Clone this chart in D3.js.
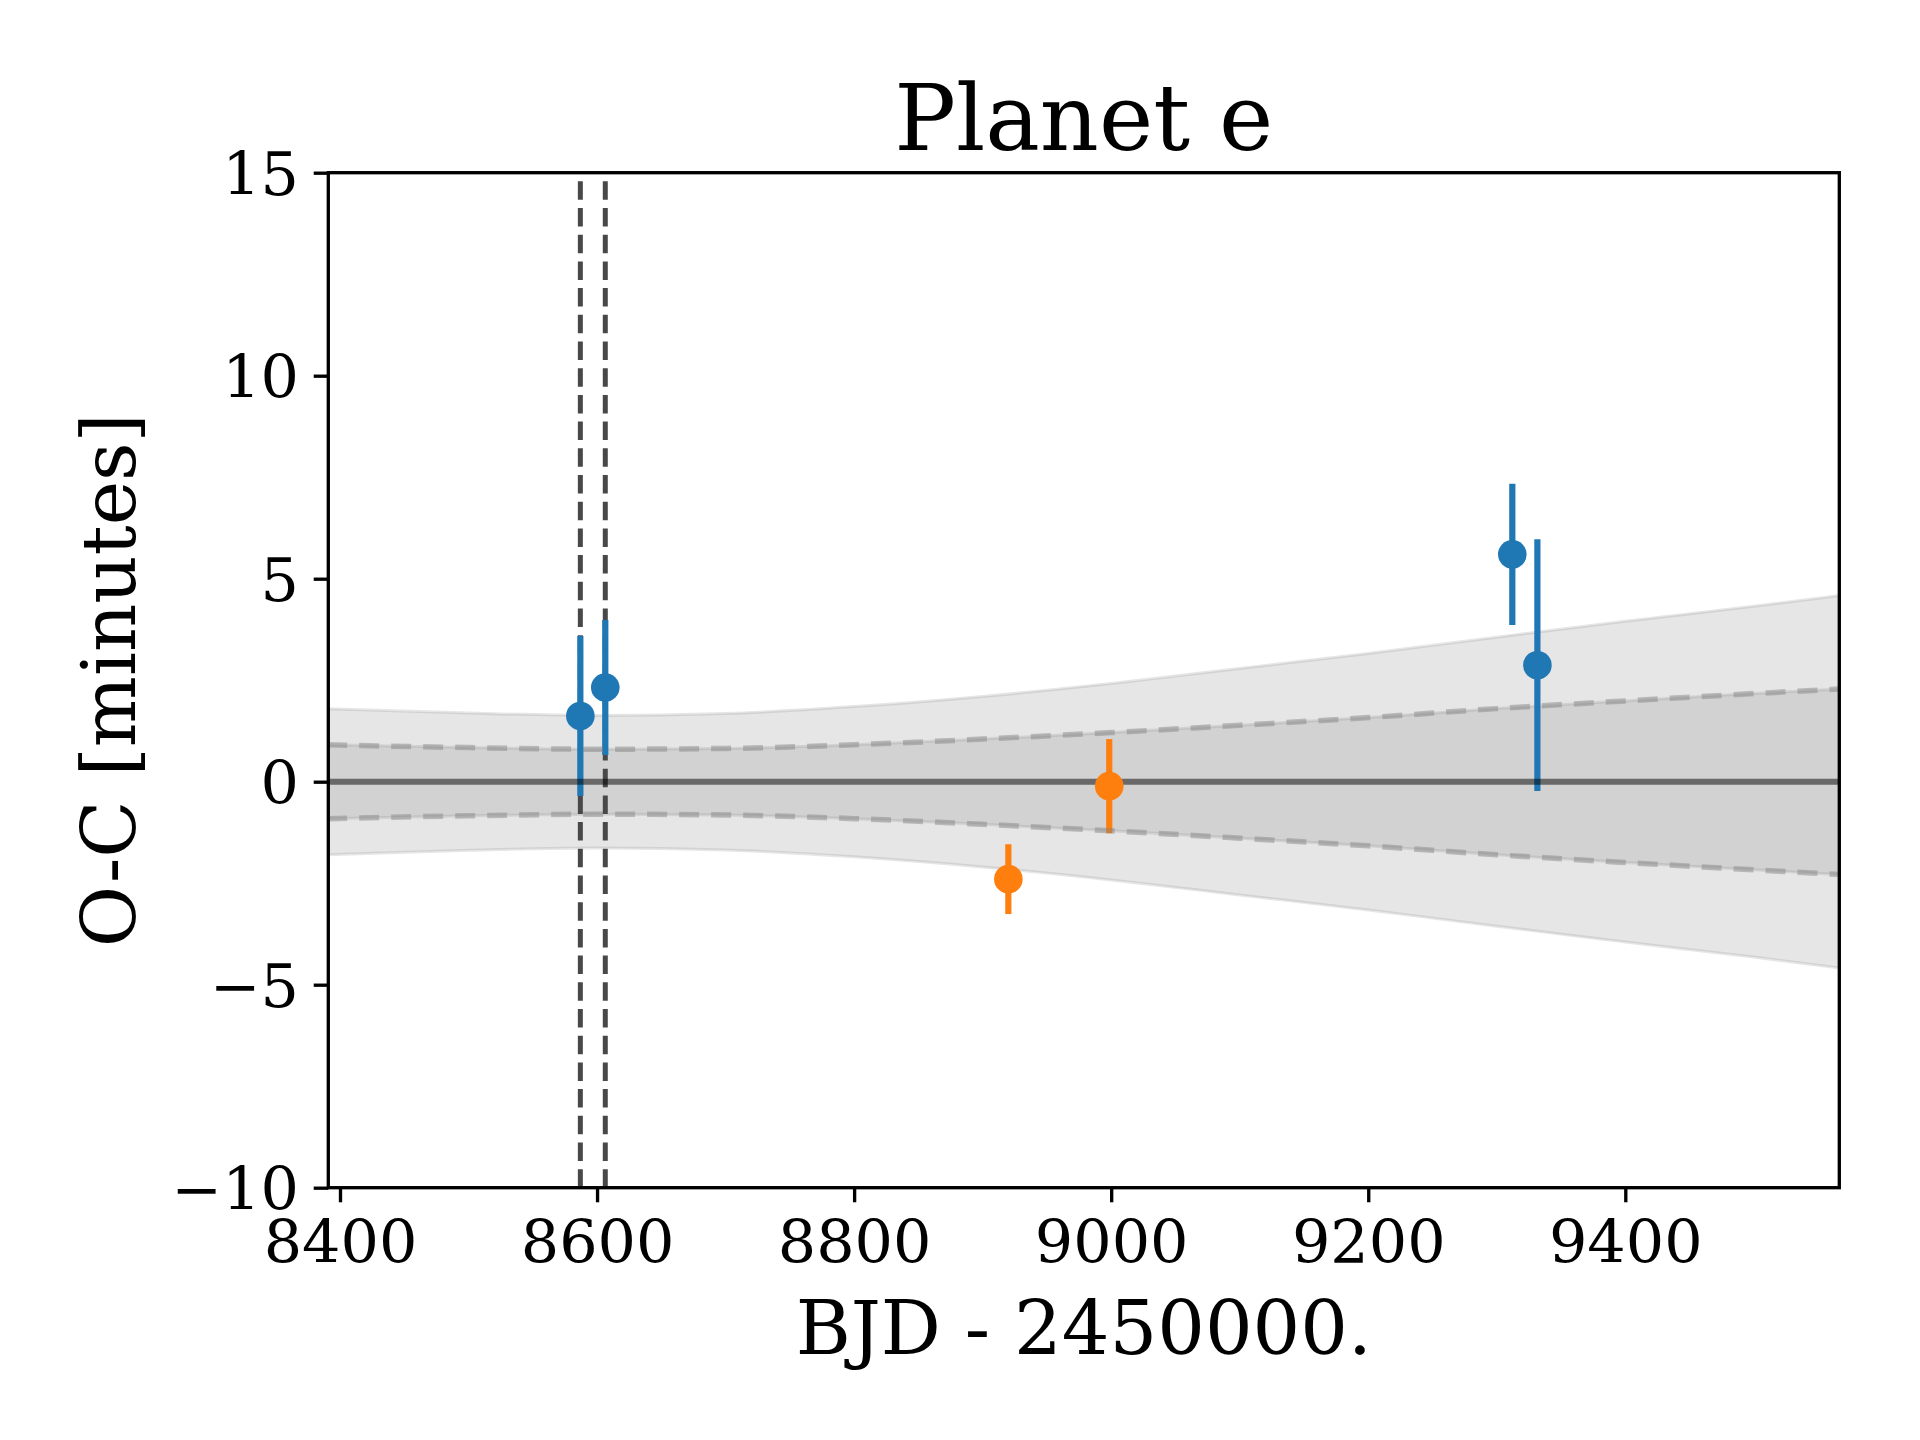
<!DOCTYPE html>
<html>
<head>
<meta charset="utf-8">
<script src="https://cdn.jsdelivr.net/npm/d3@7"></script>
<style>
  body { margin: 0; background: #fff; }
  svg { display: block; font-family: 'DejaVu Serif', serif; }
</style>
</head>
<body>
<svg id="chart" width="1920" height="1440"></svg>
<script>
// transit timing residuals
const blueTimes = [8587.0, 8606.4, 9312.1, 9331.6]
const blueOC = [1.62, 2.32, 5.60, 2.87]
const blueErr = [1.97, 1.66, 1.74, 3.10]

const orangeTimes = [8920.0, 8998.5]
const orangeOC = [-2.40, -0.11]
const orangeErr = [0.86, 1.16]

const transitLines = [8587.0, 8606.4]

// model uncertainty envelope (half widths, minutes)
const bandTimes = [8390, 8500, 8600, 8700, 8800, 8900, 9000, 9100, 9200, 9300, 9400, 9500, 9570]
const band2Sigma = [1.80, 1.69, 1.63, 1.68, 1.85, 2.10, 2.42, 2.79, 3.16, 3.56, 3.95, 4.32, 4.60]
const band1Sigma = [0.91, 0.84, 0.80, 0.82, 0.91, 1.05, 1.21, 1.39, 1.58, 1.80, 1.99, 2.17, 2.29]

const xTicks = [8400, 8600, 8800, 9000, 9200, 9400]
const yTicks = [-10, -5, 0, 5, 10, 15]

const plot = { left: 328.3, right: 1839.3, top: 172.7, bottom: 1187.7 }
const PT = 300 / 72

const svg = d3.select('#chart')

const x = d3.scaleLinear().domain([8390.9, 9566.5]).range([plot.left, plot.right])
const y = d3.scaleLinear().domain([-10, 15]).range([plot.bottom, plot.top])

svg.append('defs').append('clipPath').attr('id', 'clip')
  .append('rect')
  .attr('x', plot.left).attr('y', plot.top)
  .attr('width', plot.right - plot.left).attr('height', plot.bottom - plot.top)

const g = svg.append('g').attr('clip-path', 'url(#clip)')

/**
 * Draws one shaded envelope around zero with its two edges
 *
 * @param {number[]} half The half widths of the envelope
 * @param {object} edge The style of the edge lines
 */
function drawBand (half, edge) {
  const rows = bandTimes.map((t, i) => ({ t: t, h: half[i] }))
  const area = d3.area()
    .curve(d3.curveMonotoneX)
    .x(d => x(d.t))
    .y0(d => y(-d.h))
    .y1(d => y(d.h))
  g.append('path')
    .datum(rows)
    .attr('d', area)
    .attr('fill', 'rgba(128,128,128,0.2)')

  const upper = d3.line().curve(d3.curveMonotoneX).x(d => x(d.t)).y(d => y(d.h))
  const lower = d3.line().curve(d3.curveMonotoneX).x(d => x(d.t)).y(d => y(-d.h))
  ;[upper, lower].forEach(gen => {
    g.append('path')
      .datum(rows)
      .attr('d', gen)
      .attr('fill', 'none')
      .attr('stroke', edge.color)
      .attr('stroke-width', edge.width)
      .attr('stroke-dasharray', edge.dash)
  })
}

drawBand(band2Sigma, { color: 'rgba(128,128,128,0.2)', width: 3, dash: null })
drawBand(band1Sigma, { color: 'rgba(128,128,128,0.2)', width: 3, dash: null })

// transit epochs
g.selectAll('.vline')
  .data(transitLines)
  .join('line')
  .attr('class', 'vline')
  .attr('x1', d => x(d)).attr('x2', d => x(d))
  .attr('y1', plot.bottom).attr('y2', plot.top)
  .attr('stroke', '#484848')
  .attr('stroke-width', 5)
  .attr('stroke-dasharray', '18.5,8.2')

/**
 * Draws the error bars of a series
 *
 * @param {number[]} times The epochs
 * @param {number[]} oc The O-C values
 * @param {number[]} err The uncertainties
 * @param {string} color The series color
 */
function drawBars (times, oc, err, color) {
  const rows = times.map((t, i) => ({ t: t, v: oc[i], e: err[i] }))
  g.append('g')
    .selectAll('line')
    .data(rows)
    .join('line')
    .attr('x1', d => x(d.t)).attr('x2', d => x(d.t))
    .attr('y1', d => y(d.v - d.e)).attr('y2', d => y(d.v + d.e))
    .attr('stroke', color)
    .attr('stroke-width', 6.2)
  return rows
}

function drawMarkers (rows, color) {
  g.append('g')
    .selectAll('circle')
    .data(rows)
    .join('circle')
    .attr('cx', d => x(d.t))
    .attr('cy', d => y(d.v))
    .attr('r', 14.3)
    .attr('fill', color)
}

const blueRows = drawBars(blueTimes, blueOC, blueErr, '#1f77b4')
const orangeRows = drawBars(orangeTimes, orangeOC, orangeErr, '#ff7f0e')

// dashed 1-sigma edges
const inner = bandTimes.map((t, i) => ({ t: t, h: band1Sigma[i] }))
;[1, -1].forEach(s => {
  g.append('path')
    .datum(inner)
    .attr('d', d3.line().curve(d3.curveMonotoneX).x(d => x(d.t)).y(d => y(s * d.h)))
    .attr('fill', 'none')
    .attr('stroke', 'rgba(128,128,128,0.45)')
    .attr('stroke-width', 5.5)
    .attr('stroke-dasharray', '20,12')
})

// zero line
g.append('line')
  .attr('x1', plot.left).attr('x2', plot.right)
  .attr('y1', y(0)).attr('y2', y(0))
  .attr('stroke', 'rgba(0,0,0,0.5)')
  .attr('stroke-width', 6)

drawMarkers(blueRows, '#1f77b4')
drawMarkers(orangeRows, '#ff7f0e')

// axes
const fmt = d => d < 0 ? '\u2212' + Math.abs(d) : String(d)
const tickFont = 14.5 * PT

const xAxis = svg.append('g')
  .attr('transform', `translate(0,${plot.bottom})`)
  .call(d3.axisBottom(x).tickValues(xTicks).tickFormat(fmt).tickSize(3.5 * PT).tickPadding(17.8))
const yAxis = svg.append('g')
  .attr('transform', `translate(${plot.left},0)`)
  .call(d3.axisLeft(y).tickValues(yTicks).tickFormat(fmt).tickSize(3.5 * PT).tickPadding(14.7))

;[xAxis, yAxis].forEach(a => {
  a.select('.domain').remove()
  a.selectAll('line').attr('stroke', '#000').attr('stroke-width', 0.8 * PT)
  a.selectAll('text')
    .attr('fill', '#000')
    .style('font-family', "'DejaVu Serif', serif")
    .style('font-size', tickFont + 'px')
})
yAxis.selectAll('text').attr('dy', '0.36em')

svg.append('rect')
  .attr('x', plot.left).attr('y', plot.top)
  .attr('width', plot.right - plot.left).attr('height', plot.bottom - plot.top)
  .attr('fill', 'none')
  .attr('stroke', '#000')
  .attr('stroke-width', 0.8 * PT)

// labels
svg.append('text')
  .attr('x', (plot.left + plot.right) / 2)
  .attr('y', 150)
  .attr('text-anchor', 'middle')
  .style('font-size', (22 * PT) + 'px')
  .text('Planet e')

svg.append('text')
  .attr('x', (plot.left + plot.right) / 2)
  .attr('y', 1354)
  .attr('text-anchor', 'middle')
  .style('font-size', (18 * PT) + 'px')
  .text('BJD - 2450000.')

svg.append('text')
  .attr('transform', `translate(135,${(plot.top + plot.bottom) / 2}) rotate(-90)`)
  .attr('text-anchor', 'middle')
  .style('font-size', (18 * PT) + 'px')
  .text('O-C [minutes]')
</script>
</body>
</html>
